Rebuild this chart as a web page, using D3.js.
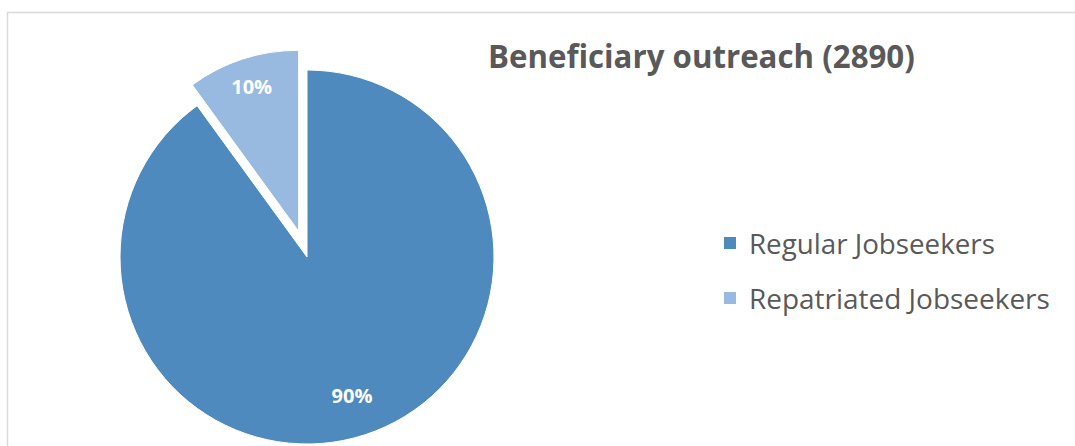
<!DOCTYPE html>
<html>
<head>
<meta charset="utf-8">
<script src="https://cdn.jsdelivr.net/npm/d3@7"></script>
<style>
  body { margin: 0; background: #fff; }
  svg { display: block; }
</style>
</head>
<body>
<svg id="chart" width="1075" height="446"></svg>
<script>
// pie data
const categories = ["Regular Jobseekers", "Repatriated Jobseekers"];
const values = [90, 10];
const colors = ["#4f8abe", "#98b9e0"];
const chartTitle = "Beneficiary outreach (2890)";

const svg = d3.select("#chart");
const font = "'Open Sans', 'Noto Sans', sans-serif";

// frame
svg.append("rect")
  .attr("x", 7.5).attr("y", 12.5)
  .attr("width", 1100).attr("height", 460)
  .attr("fill", "none").attr("stroke", "#d9d9d9").attr("stroke-width", 1.5);

// fit a text element to a target width by changing the font size
function fitWidth(sel, w) {
  const node = sel.node();
  const fs = parseFloat(sel.attr("font-size"));
  const len = node.getComputedTextLength();
  sel.attr("font-size", fs * w / len);
}

const cx = 307, cy = 257;
const r = 187;
const explodeR = 181, explodeDist = 27;

const pie = d3.pie().sort(null).value(d => d)(values);
const arc = d3.arc().innerRadius(0);

const g = svg.append("g").attr("transform", `translate(${cx},${cy})`);

pie.forEach((d, i) => {
  const mid = (d.startAngle + d.endAngle) / 2;
  const exploded = i === 1;
  const rad = exploded ? explodeR : r;
  const off = exploded ? explodeDist : 0;
  const dx = Math.sin(mid) * off, dy = -Math.cos(mid) * off;
  const sg = g.append("g").attr("transform", `translate(${dx},${dy})`);
  sg.append("path")
    .attr("d", arc.outerRadius(rad)(d))
    .attr("fill", colors[i])
    .attr("stroke", "#fff").attr("stroke-width", 1);
  const lr = rad * (exploded ? 0.84 : 0.78);
  const t = sg.append("text")
    .attr("x", Math.sin(mid) * lr)
    .attr("y", -Math.cos(mid) * lr)
    .attr("text-anchor", "middle")
    .attr("dominant-baseline", "central")
    .attr("font-family", font)
    .attr("font-weight", "bold")
    .attr("font-size", 18)
    .attr("fill", "#fff")
    .text(Math.round(d.data) + "%");
  fitWidth(t, 41);
});

// title
const title = svg.append("text")
  .attr("x", 488).attr("y", 68)
  .attr("font-family", font)
  .attr("font-weight", "bold")
  .attr("font-size", 28)
  .attr("fill", "#595959")
  .text(chartTitle);
fitWidth(title, 427);

// legend
const legendW = [246, 301];
categories.forEach((c, i) => {
  const y = 243 + i * 55;
  svg.append("rect")
    .attr("x", 724).attr("y", y - 6)
    .attr("width", 12).attr("height", 12)
    .attr("fill", colors[i]);
  const t = svg.append("text")
    .attr("x", 749).attr("y", y)
    .attr("dominant-baseline", "central")
    .attr("font-family", font)
    .attr("font-size", 22)
    .attr("fill", "#595959")
    .text(c);
  fitWidth(t, legendW[i]);
});
</script>
</body>
</html>
